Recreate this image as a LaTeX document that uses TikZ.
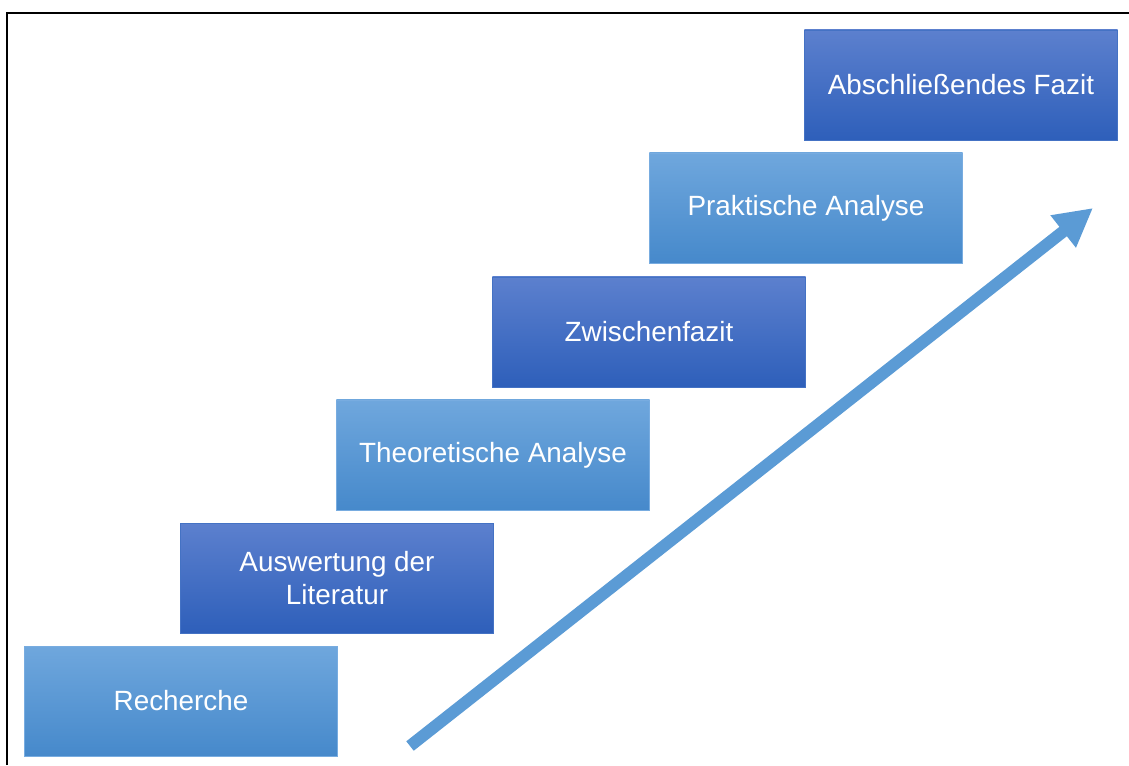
\documentclass[tikz,border=0pt]{standalone}
\usepackage{fontspec}
\setmainfont{Liberation Sans}
\usepackage{xcolor}
\usetikzlibrary{arrows.meta}

\definecolor{lightTop}{RGB}{111,167,221}
\definecolor{lightBot}{RGB}{70,137,203}
\definecolor{lightLine}{RGB}{120,172,224}
\definecolor{darkTop}{RGB}{92,128,206}
\definecolor{darkBot}{RGB}{46,95,186}
\definecolor{darkLine}{RGB}{68,114,196}
\definecolor{arrowBlue}{RGB}{91,155,213}

\begin{document}
\begin{tikzpicture}[x=0.025cm, y=-0.025cm,
    phase/.style={draw, rectangle, minimum width=7.825cm, minimum height=2.75cm,
        inner sep=0pt, text=white, align=center,
        font=\fontsize{19.8}{24}\selectfont},
    lightphase/.style={phase, draw=lightLine, top color=lightTop, bottom color=lightBot},
    darkphase/.style={phase, draw=darkLine, top color=darkTop, bottom color=darkBot}]
    \useasboundingbox (0,0) rectangle (1129,765);
    \draw[line width=0.05cm] (7,765) -- (7,13) -- (1129,13);

    \node[lightphase] (recherche) at (181,701) {Recherche};
    \node[darkphase] (auswertung) at (337,578) {Auswertung der\\Literatur};
    \node[lightphase] (theorie) at (493,455) {Theoretische Analyse};
    \node[darkphase] (zwischen) at (649,332) {Zwischenfazit};
    \node[lightphase] (praxis) at (806,208) {Praktische Analyse};
    \node[darkphase] (fazit) at (961,85) {Abschließendes Fazit};

    \coordinate (start) at (410,746);
    \coordinate (ziel) at (1093,208);
    \draw[arrowBlue, line width=0.3cm, -{Triangle[length=0.95cm, width=0.96cm]}] (start) -- (ziel);
\end{tikzpicture}
\end{document}
